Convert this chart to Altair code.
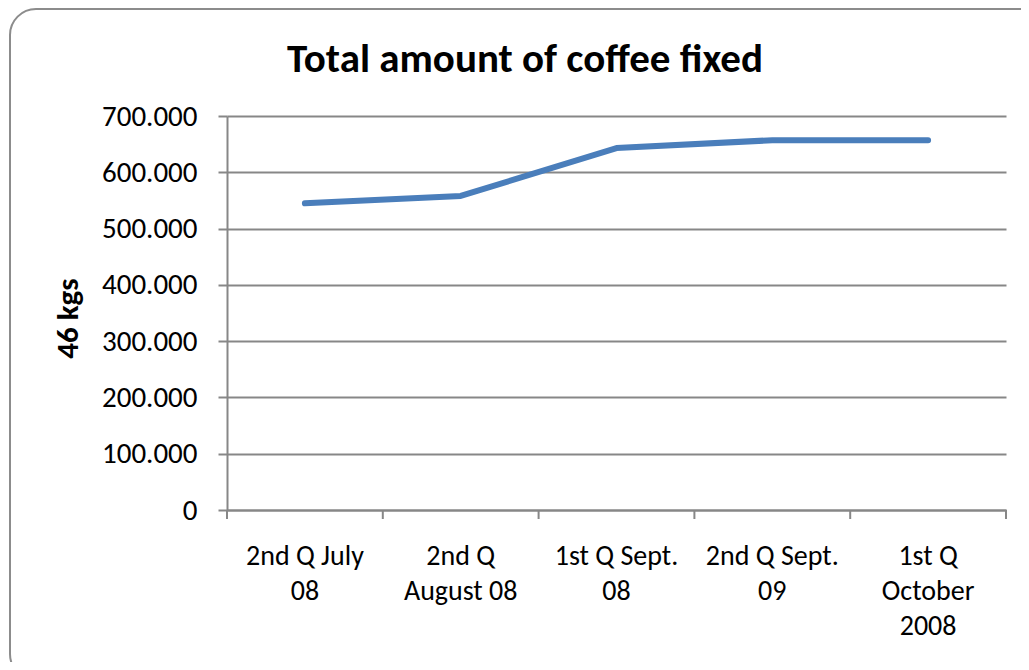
import altair as alt
import pandas as pd

title_text = ["Total amount of coffee fixed"]
categories = ["2nd Q July 08", "2nd Q August 08", "1st Q Sept. 08", "2nd Q Sept. 09", "1st Q October 2008"]
label_lines = [["2nd Q July", "08"], ["2nd Q", "August 08"], ["1st Q Sept.", "08"], ["2nd Q Sept.", "09"], ["1st Q", "October", "2008"]]
values = [545000, 558000, 643000, 657000, 657000]
y_ticks = [0, 100000, 200000, 300000, 400000, 500000, 600000, 700000]

df = pd.DataFrame({"period": categories, "amount": values})

FONT = "Carlito, 'Liberation Sans Narrow', 'Arial Narrow', Roboto, sans-serif"
GRAY = "#878787"
W, H = 779, 394

lookup = "{" + ",".join(
    '"%s": [%s]' % (c, ",".join('"%s"' % s for s in lines)) for c, lines in zip(categories, label_lines)
) + "}"

xscale = alt.Scale(type="band", paddingInner=0, paddingOuter=0, domain=categories)
yscale = alt.Scale(domain=[0, 700000])

line = alt.Chart(df).mark_line(color="#4A7EBB", strokeWidth=6, strokeCap="round", strokeJoin="round").encode(
    x=alt.X("period:N", scale=xscale, bandPosition=0.5,
            axis=alt.Axis(title=None, ticks=False, domain=True, domainColor=GRAY, domainWidth=2,
                          labelAngle=0, labelFont=FONT, labelFontSize=28, labelColor="black",
                          labelPadding=32, labelLineHeight=35, labelBaseline="top",
                          labelExpr=lookup + "[datum.label]", grid=False)),
    y=alt.Y("amount:Q", scale=yscale,
            axis=alt.Axis(title="46 kgs", values=y_ticks, grid=True, gridColor=GRAY, gridWidth=2,
                          domain=True, domainColor=GRAY, domainWidth=2,
                          ticks=True, tickColor=GRAY, tickWidth=2, tickSize=9,
                          labelFont=FONT, labelFontSize=29, labelColor="black", labelPadding=21,
                          labelExpr="replace(format(datum.value, ','), ',', '.')",
                          titleFont=FONT, titleFontSize=31, titleFontWeight="bold", titleColor="black",
                          titleAngle=-90, titleX=-159, titleY=202, titleAlign="center",
                          titleBaseline="middle")),
)

ticks = alt.Chart(df).mark_rule(color=GRAY, strokeWidth=2).encode(
    x=alt.X("period:N", scale=xscale, bandPosition=0),
    y=alt.value(H),
    y2=alt.value(H + 9),
)

end_tick = alt.Chart(alt.Data(values=[{"a": 1}])).mark_rule(color=GRAY, strokeWidth=2).encode(
    x=alt.value(W), y=alt.value(H), y2=alt.value(H + 9)
)

border = alt.Chart(alt.Data(values=[{"a": 1}])).mark_rect(
    cornerRadius=26, fillOpacity=0, stroke="#8c8c8c", strokeWidth=2
).encode(
    x=alt.value(-217), x2=alt.value(818), y=alt.value(-107), y2=alt.value(564)
)

title = alt.Chart(alt.Data(values=[{"t": t} for t in title_text])).mark_text(
    font=FONT, fontSize=41, fontWeight="bold", color="black", align="center", baseline="alphabetic"
).encode(
    text="t:N", x=alt.value(298), y=alt.value(-44)
)

chart = alt.layer(border, line, ticks, end_tick, title).properties(
    width=W, height=H,
    autosize=alt.AutoSizeParams(type="none"),
    padding={"left": 219, "top": 108, "right": 15, "bottom": 152},
).configure_view(strokeWidth=0)

chart.save("out.html", embed_options={"renderer": "svg", "actions": False})
